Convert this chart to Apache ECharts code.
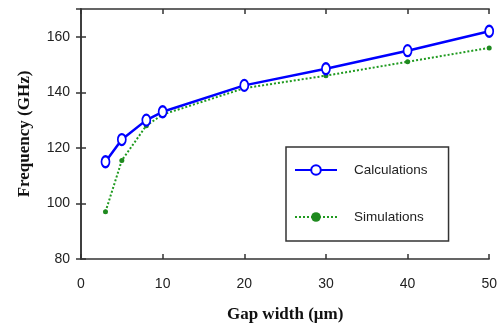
<!DOCTYPE html>
<html>
<head>
<meta charset="utf-8">
<script src="https://cdn.jsdelivr.net/npm/echarts@6/dist/echarts.min.js"></script>
<style>
  html, body { margin: 0; padding: 0; background: #fff; }
  #chart { width: 500px; height: 331px; }
</style>
</head>
<body>
<div id="chart"></div>
<script>
const gapWidth = [3, 5, 8, 10, 20, 30, 40, 50]
const calculations = [115, 123, 130, 133, 142.5, 148.5, 155, 162]
const simulations = [97, 115.5, 128, 132, 141.5, 146, 151, 156]

const AXIS = '#333'
const LABEL_FONT = { fontFamily: 'Liberation Sans', fontSize: 14, color: '#222' }
const NAME_FONT = { fontFamily: 'Liberation Serif', fontWeight: 'bold', fontSize: 17, color: '#111' }

const pairs = (ys) => gapWidth.map((x, i) => [x, ys[i]])

const chart = echarts.init(document.getElementById('chart'), null, { renderer: 'canvas' })

const baseX = {
    type: 'value', min: 0, max: 50, interval: 10,
    splitLine: { show: false },
    axisLine: { lineStyle: { color: AXIS, width: 1.5 } },
    axisTick: { inside: true, length: 5, lineStyle: { color: AXIS, width: 1.5 } },
}
const baseY = {
    type: 'value', min: 80, max: 170, interval: 20,
    splitLine: { show: false },
    axisLine: { lineStyle: { color: AXIS, width: 1.5 } },
    axisTick: { inside: true, length: 5, lineStyle: { color: AXIS, width: 1.5 } },
}

chart.setOption({
    animation: false,
    grid: { left: 81, right: 8, top: 9, bottom: 72 },
    xAxis: [
        {
            ...baseX,
            position: 'bottom',
            name: 'Gap width (μm)',
            nameLocation: 'middle',
            nameGap: 47,
            nameTextStyle: NAME_FONT,
            axisLabel: { ...LABEL_FONT, margin: 18 },
        },
        { ...baseX, position: 'top', axisLabel: { show: false } },
    ],
    yAxis: [
        {
            ...baseY,
            position: 'left',
            name: 'Frequency (GHz)',
            nameLocation: 'middle',
            nameGap: 48,
            nameTextStyle: NAME_FONT,
            axisLabel: { ...LABEL_FONT, margin: 11, showMaxLabel: false },
        },
        { ...baseY, position: 'right', axisLabel: { show: false } },
    ],
    legend: {
        left: 286,
        top: 147,
        orient: 'vertical',
        backgroundColor: '#fff',
        borderColor: '#333',
        borderWidth: 1.5,
        padding: [16, 21, 17, 8],
        itemGap: 33,
        itemWidth: 42,
        itemHeight: 12,
        textStyle: { fontFamily: 'Liberation Sans', fontSize: 13.5, color: '#222', padding: [0, 0, 0, 12] },
        data: ['Calculations', 'Simulations'],
    },
    series: [
        {
            name: 'Simulations',
            type: 'line',
            data: pairs(simulations),
            symbol: 'circle',
            symbolSize: 5,
            lineStyle: { color: '#1f9a1f', width: 2, type: [2, 2] },
            itemStyle: { color: '#1f8a1f' },
            z: 2,
        },
        {
            name: 'Calculations',
            type: 'line',
            data: pairs(calculations),
            symbol: 'emptyCircle',
            symbolSize: [8, 11],
            lineStyle: { color: '#0000ff', width: 2.5 },
            itemStyle: { color: '#0000ff', borderColor: '#0000ff', borderWidth: 1.8 },
            z: 3,
        },
    ],
})
</script>
</body>
</html>
